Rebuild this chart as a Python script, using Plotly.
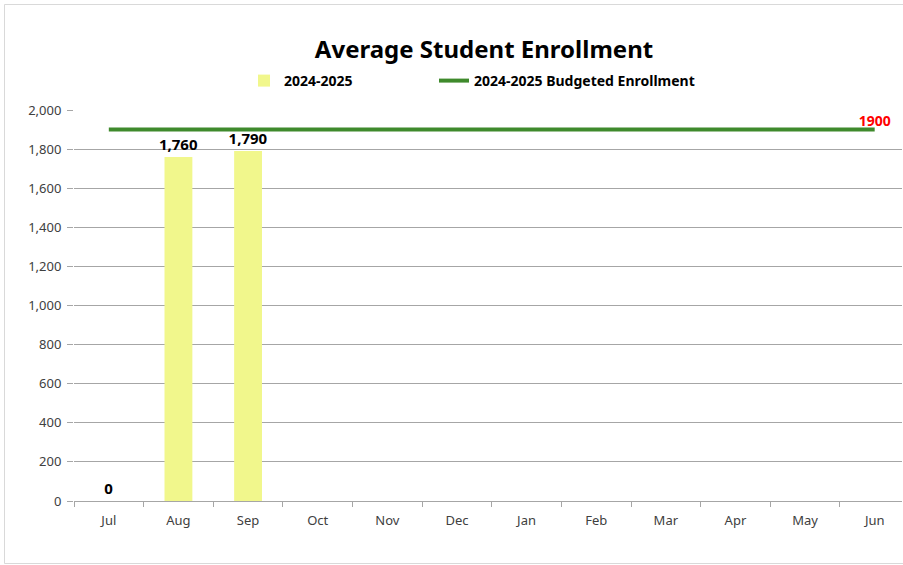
import plotly.graph_objects as go

months = ["Jul", "Aug", "Sep", "Oct", "Nov", "Dec", "Jan", "Feb", "Mar", "Apr", "May", "Jun"]
enrollment = [0, 1760, 1790, None, None, None, None, None, None, None, None, None]
budgeted = [1900] * 12
y_ticks = [0, 200, 400, 600, 800, 1000, 1200, 1400, 1600, 1800, 2000]

W, H = 903, 565
L, R, T, B = 74, 1, 110, 64
PW, PH = W - L - R, H - T - B

def px_x(px):
    return (px - L) / PW

def px_y(py):
    return (H - B - py) / PH

FONT = "Noto Sans"
BORDER = "#D9D9D9"

fig = go.Figure()
fig.add_trace(go.Bar(
    x=months, y=enrollment, name="2024-2025",
    marker=dict(color="#F1F78C", line=dict(width=0)),
    text=[f"{v:,}" if v is not None else "" for v in enrollment],
    textposition="outside", cliponaxis=False, constraintext="none",
    textfont=dict(family=FONT, size=15, color="#000000", weight="bold"),
    legend="legend",
))
fig.add_trace(go.Scatter(
    x=months, y=budgeted, name="2024-2025 Budgeted Enrollment",
    mode="lines+text",
    line=dict(color="#3F8A2C", width=4),
    text=[""] * (len(months) - 1) + [str(budgeted[-1])],
    textposition="top center", cliponaxis=False,
    textfont=dict(family=FONT, size=14, color="#FF0000", weight="bold"),
    legend="legend2",
))

legend_font = dict(family=FONT, size=14, color="#000000", weight="bold")

fig.update_layout(
    width=W, height=H,
    margin=dict(l=L, r=R, t=T, b=B),
    paper_bgcolor="white", plot_bgcolor="white",
    font=dict(family=FONT, size=13, color="#404040"),
    bargap=0.6,
    title=dict(text="<b>Average Student Enrollment</b>", x=484 / W, xanchor="center",
               y=1 - 50 / H, yanchor="middle", font=dict(family=FONT, size=24, color="#000000")),
    legend=dict(orientation="h", x=px_x(244), xanchor="left", y=px_y(81), yanchor="middle",
                font=legend_font, bgcolor="rgba(0,0,0,0)", itemwidth=30),
    legend2=dict(orientation="h", x=px_x(434), xanchor="left", y=px_y(81), yanchor="middle",
                 font=legend_font, bgcolor="rgba(0,0,0,0)", itemwidth=30),
    showlegend=True,
    xaxis=dict(type="category", range=[-0.5, 11.5 - (909.5 - 902) / 69.6],
               showgrid=False, showline=True, linecolor="#A6A6A6", linewidth=1,
               ticks="outside", ticklen=5, tickcolor="#A6A6A6", tickson="boundaries",
               ticklabelstandoff=7,
               tickfont=dict(family=FONT, size=13, color="#404040"), fixedrange=True),
    yaxis=dict(range=[0, 2000], tickvals=y_ticks, tickformat=",",
               showgrid=True, gridcolor="#A6A6A6", gridwidth=1,
               showline=False, zeroline=False,
               ticks="outside", ticklen=6, tickcolor="#A6A6A6", ticklabelstandoff=3,
               tickfont=dict(family=FONT, size=13, color="#404040"), fixedrange=True),
    shapes=[
        dict(type="line", xref="paper", yref="paper", x0=px_x(4.5), x1=px_x(4.5),
             y0=px_y(563.5), y1=px_y(4.5), line=dict(color=BORDER, width=1), layer="below"),
        dict(type="line", xref="paper", yref="paper", x0=px_x(4.5), x1=px_x(903),
             y0=px_y(4.5), y1=px_y(4.5), line=dict(color=BORDER, width=1), layer="below"),
        dict(type="line", xref="paper", yref="paper", x0=px_x(4.5), x1=px_x(903),
             y0=px_y(563.5), y1=px_y(563.5), line=dict(color=BORDER, width=1), layer="below"),
    ],
)

fig.write_html("out.html")
